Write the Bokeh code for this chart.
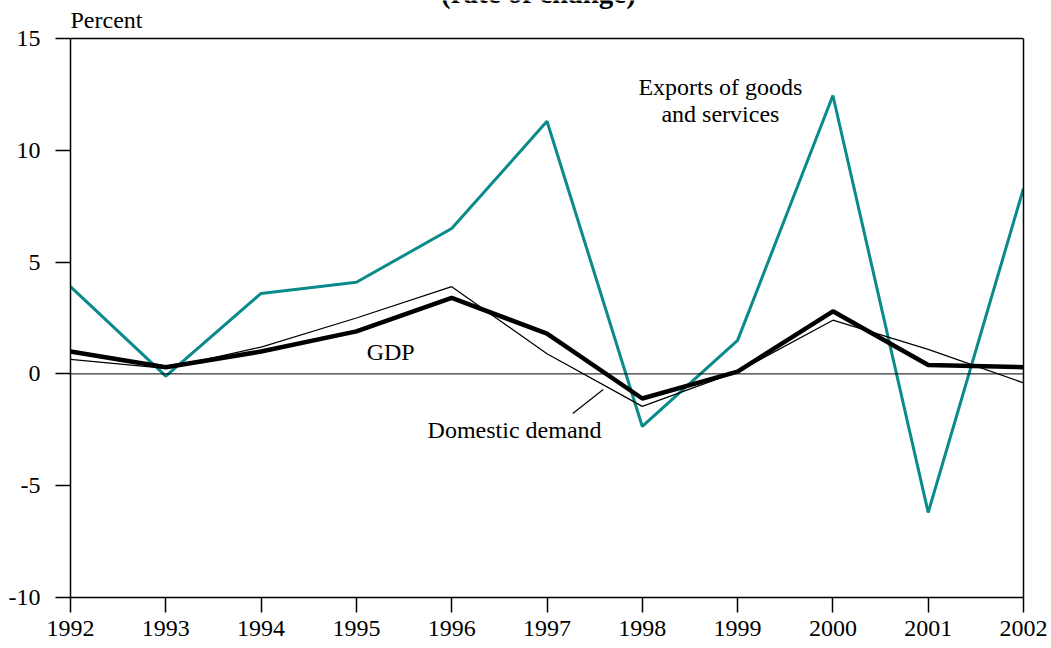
from bokeh.plotting import figure
from bokeh.models import Range1d, FixedTicker, Label, Span, LinearAxis
from bokeh.embed import file_html
from bokeh.resources import INLINE

years = [1992, 1993, 1994, 1995, 1996, 1997, 1998, 1999, 2000, 2001, 2002]
exports = [3.9, -0.1, 3.6, 4.1, 6.5, 11.3, -2.35, 1.5, 12.45, -6.2, 8.3]
gdp = [1.0, 0.3, 1.0, 1.9, 3.4, 1.8, -1.1, 0.1, 2.8, 0.4, 0.3]
domestic = [0.65, 0.25, 1.2, 2.5, 3.9, 0.9, -1.45, 0.1, 2.4, 1.1, -0.4]
y_major = [-10, -5, 0, 5, 10, 15]
y_minor = [v for v in range(-10, 16) if v % 5 != 0]

FONT = "Liberation Serif"
TEAL = "#0a8a8a"

Y_MIN, Y_MAX = -10, 15
TOP_SPACE = 38   # px above the value box, used for the header texts
FRAME_H = 559
y_top = Y_MAX + TOP_SPACE * (Y_MAX - Y_MIN) / FRAME_H

p = figure(width=1051, height=648, output_backend="svg", toolbar_location=None,
           x_range=Range1d(years[0], years[-1]), y_range=Range1d(Y_MIN, y_top),
           min_border_left=70, min_border_right=28, min_border_top=0, min_border_bottom=51)
p.background_fill_color = "white"
p.border_fill_color = "white"
p.outline_line_color = None
p.grid.visible = False

p.xaxis.ticker = FixedTicker(ticks=years)
p.xaxis.major_tick_out = 15
p.xaxis.major_tick_in = 0
p.xaxis.major_label_standoff = 8

p.yaxis.ticker = FixedTicker(ticks=y_major, minor_ticks=y_minor)
p.yaxis.bounds = (Y_MIN, Y_MAX)
p.yaxis.major_tick_out = 15
p.yaxis.major_tick_in = 0
p.yaxis.minor_tick_out = 8
p.yaxis.minor_tick_in = 0
p.yaxis.major_label_standoff = 15
p.yaxis.major_label_overrides = {v: str(v) for v in y_major}
for ax in (p.xaxis, p.yaxis):
    ax.axis_line_width = 1.5
    ax.major_tick_line_width = 1.5
    ax.minor_tick_line_width = 1.5
    ax.axis_line_color = "black"
    ax.major_tick_line_color = "black"
    ax.minor_tick_line_color = "black" if ax is p.yaxis else None
    ax.major_label_text_font = FONT
    ax.major_label_text_font_size = "24px"
    ax.major_label_text_color = "black"

right = LinearAxis(bounds=(Y_MIN, Y_MAX), ticker=FixedTicker(ticks=[]),
                   major_tick_line_color=None, minor_tick_line_color=None,
                   axis_line_width=1.5, axis_line_color="black", major_label_standoff=0)
p.add_layout(right, "right")

p.add_layout(Span(location=Y_MAX, dimension="width", line_color="black", line_width=1.5))
p.add_layout(Span(location=0, dimension="width", line_color="black", line_width=1))

p.line(years, exports, line_color=TEAL, line_width=3)
p.line(years, domestic, line_color="black", line_width=1.3)
p.line(years, gdp, line_color="black", line_width=4.5)

pointer_x = [1997.27, 1997.59]
pointer_y = [-1.77, -0.70]
p.line(pointer_x, pointer_y, line_color="black", line_width=1.2)

def lab(x, y, t, **kw):
    d = dict(text_font=FONT, text_font_size="24px", text_color="black",
             text_align="center", text_baseline="middle")
    d.update(kw)
    p.add_layout(Label(x=x, y=y, text=t, **d))

lab(1998.82, 12.85, "Exports of goods")
lab(1998.82, 11.62, "and services")
lab(1995.36, 0.96, "GDP")
lab(1996.66, -2.53, "Domestic demand")
lab(1992, Y_MAX, "Percent", text_align="left", text_baseline="alphabetic", y_offset=19)
lab(1996.91, Y_MAX, "(rate of change)", text_baseline="alphabetic", y_offset=46,
    text_font_style="bold", text_font_size="29px")

open("out.html", "w").write(file_html(p, INLINE))
